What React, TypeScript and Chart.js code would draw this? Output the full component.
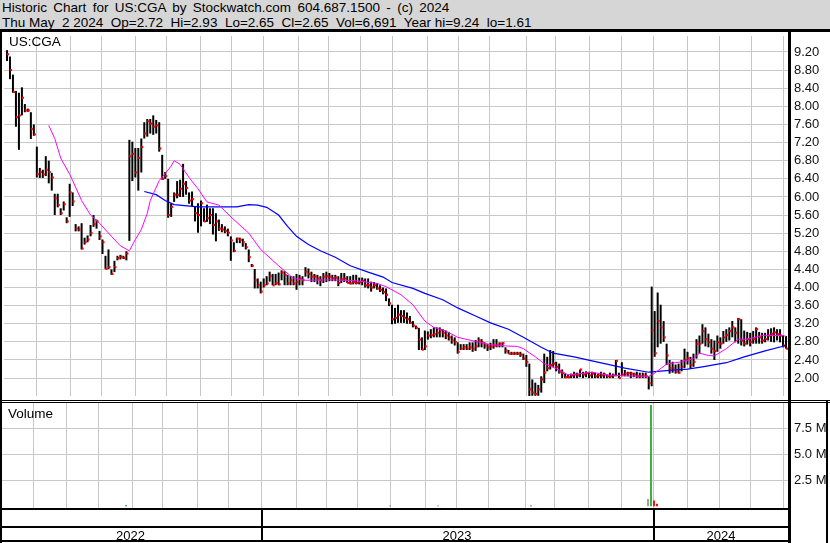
import React, { useEffect, useRef } from "react";
import { Chart, registerables } from "chart.js";

Chart.register(...registerables);

// ---- Daily bars (one slot ≈ 2 trading days), May 2022 → May 2 2024 ----
const barHigh = [
  9.24, 9.10, 8.70, 8.34, 8.30, 8.42, 8.05, 7.95, 7.87, 7.60,
  7.11, 6.64, 6.60, 6.90, 6.80, 6.53, 6.07, 6.07, 5.75, 5.90,
  5.55, 6.29, 6.10, 5.40, 5.35, 5.42, 5.10, 5.15, 5.38, 5.60,
  5.50, 5.25, 5.06, 4.70, 4.84, 4.40, 4.59, 4.70, 4.72, 4.70,
  4.80, 7.26, 7.22, 7.08, 7.08, 7.29, 7.65, 7.72, 7.72, 7.80,
  7.70, 7.65, 6.93, 6.55, 6.40, 5.86, 6.10, 6.35, 6.38, 6.73,
  6.35, 6.10, 6.12, 5.78, 5.86, 5.92, 5.75, 5.83, 5.75, 5.75,
  5.64, 5.50, 5.40, 5.35, 5.30, 5.13, 5.00, 5.10, 5.10, 5.08,
  4.98, 4.84, 4.52, 4.41, 4.20, 4.13, 4.20, 4.25, 4.35, 4.30,
  4.30, 4.33, 4.38, 4.36, 4.28, 4.25, 4.25, 4.30, 4.28, 4.25,
  4.45, 4.42, 4.35, 4.30, 4.28, 4.25, 4.32, 4.35, 4.32, 4.28,
  4.28, 4.25, 4.32, 4.32, 4.25, 4.25, 4.28, 4.28, 4.22, 4.22,
  4.20, 4.20, 4.13, 4.12, 4.10, 4.05, 4.00, 3.98, 3.76, 3.62,
  3.55, 3.62, 3.50, 3.50, 3.45, 3.37, 3.26, 3.16, 3.11, 2.90,
  3.05, 3.03, 3.08, 3.12, 3.12, 3.12, 3.08, 3.05, 3.02, 2.94,
  2.90, 2.79, 2.75, 2.75, 2.75, 2.79, 2.79, 2.84, 2.90, 2.86,
  2.79, 2.75, 2.78, 2.86, 2.86, 2.79, 2.79, 2.68, 2.62, 2.58,
  2.58, 2.58, 2.58, 2.54, 2.51, 2.32, 1.97, 1.90, 1.85, 2.04,
  2.54, 2.47, 2.62, 2.60, 2.36, 2.32, 2.19, 2.10, 2.08, 2.10,
  2.14, 2.12, 2.19, 2.14, 2.15, 2.14, 2.14, 2.12, 2.10, 2.14,
  2.12, 2.08, 2.12, 2.10, 2.40, 2.12, 2.35, 2.18, 2.14, 2.14,
  2.12, 2.14, 2.12, 2.12, 2.12, 2.04, 4.02, 3.48, 3.89, 3.62,
  3.26, 2.76, 2.40, 2.36, 2.30, 2.32, 2.40, 2.65, 2.58, 2.47,
  2.54, 2.86, 2.94, 3.19, 3.12, 2.98, 2.86, 2.83, 2.94, 2.90,
  3.04, 3.08, 3.12, 3.26, 3.12, 3.33, 3.30, 3.05, 3.02, 3.00,
  3.04, 3.12, 3.02, 3.00, 3.00, 3.08, 3.10, 3.12, 3.08, 3.08,
  2.94, 2.93,
];
const barLow = [
  9.00, 8.60, 8.30, 7.55, 7.04, 7.80, 7.87, 7.88, 7.28, 7.35,
  6.43, 6.42, 6.42, 6.46, 6.30, 6.14, 5.60, 5.77, 5.60, 5.70,
  5.42, 5.56, 5.80, 5.24, 5.24, 4.84, 4.95, 5.00, 5.13, 5.34,
  5.30, 5.05, 4.74, 4.41, 4.41, 4.28, 4.34, 4.60, 4.62, 4.63,
  4.60, 5.03, 6.35, 6.43, 6.14, 6.54, 7.29, 7.33, 7.40, 7.37,
  7.40, 7.00, 6.38, 6.40, 5.54, 5.56, 5.89, 5.97, 6.00, 6.00,
  6.05, 5.85, 5.80, 5.46, 5.21, 5.35, 5.45, 5.45, 5.40, 5.17,
  5.02, 5.25, 5.22, 5.20, 5.13, 4.59, 4.78, 4.98, 4.98, 4.90,
  4.84, 4.56, 4.45, 3.98, 3.98, 3.87, 4.00, 4.05, 4.13, 4.05,
  4.05, 4.05, 4.16, 4.05, 4.05, 4.05, 4.05, 3.95, 4.05, 4.05,
  4.24, 4.20, 4.12, 4.12, 4.07, 4.03, 4.10, 4.12, 4.14, 4.14,
  4.14, 4.03, 4.10, 4.12, 4.10, 4.07, 4.07, 4.07, 4.07, 4.05,
  4.00, 3.98, 3.91, 3.98, 3.95, 3.90, 3.85, 3.70, 3.59, 3.19,
  3.20, 3.22, 3.22, 3.22, 3.20, 3.20, 3.12, 3.08, 2.62, 2.62,
  2.62, 2.85, 2.88, 2.90, 2.90, 2.90, 2.90, 2.86, 2.83, 2.76,
  2.72, 2.54, 2.62, 2.62, 2.62, 2.62, 2.58, 2.60, 2.68, 2.68,
  2.65, 2.60, 2.62, 2.65, 2.68, 2.68, 2.68, 2.54, 2.54, 2.51,
  2.51, 2.51, 2.47, 2.40, 2.25, 1.60, 1.61, 1.61, 1.61, 1.68,
  1.89, 2.15, 2.19, 2.25, 2.15, 2.10, 2.00, 2.00, 2.00, 2.00,
  2.00, 2.00, 2.02, 2.00, 2.02, 2.00, 2.00, 2.00, 2.00, 2.00,
  2.00, 2.00, 2.00, 2.00, 2.04, 2.00, 2.04, 2.04, 2.04, 2.00,
  2.02, 2.00, 2.00, 2.00, 2.00, 1.75, 1.82, 2.47, 2.68, 2.76,
  2.80, 2.29, 2.10, 2.12, 2.10, 2.10, 2.15, 2.22, 2.30, 2.22,
  2.25, 2.43, 2.54, 2.76, 2.70, 2.68, 2.54, 2.40, 2.58, 2.65,
  2.76, 2.80, 2.83, 2.90, 2.79, 2.76, 2.72, 2.70, 2.74, 2.70,
  2.76, 2.76, 2.76, 2.76, 2.79, 2.83, 2.80, 2.79, 2.83, 2.79,
  2.68, 2.65,
];
const barClose = [
  9.15, 8.80, 8.32, 7.76, 7.80, 8.19, 7.91, 7.91, 7.50, 7.38,
  6.50, 6.55, 6.50, 6.60, 6.55, 6.43, 5.97, 5.82, 5.64, 5.84,
  5.46, 6.10, 5.90, 5.30, 5.28, 4.86, 5.00, 5.06, 5.20, 5.40,
  5.46, 5.13, 5.00, 4.41, 4.45, 4.30, 4.45, 4.65, 4.68, 4.65,
  4.75, 6.90, 6.95, 6.54, 6.86, 7.10, 7.40, 7.67, 7.62, 7.55,
  7.58, 7.07, 6.40, 6.46, 5.60, 5.78, 6.05, 6.05, 6.18, 6.29,
  6.20, 5.92, 5.95, 5.64, 5.60, 5.86, 5.46, 5.53, 5.60, 5.38,
  5.46, 5.30, 5.28, 5.25, 5.21, 5.04, 4.81, 5.08, 5.05, 5.00,
  4.89, 4.67, 4.48, 4.16, 4.05, 3.91, 4.05, 4.09, 4.25, 4.05,
  4.10, 4.07, 4.33, 4.28, 4.09, 4.16, 4.09, 4.12, 4.20, 4.16,
  4.35, 4.30, 4.24, 4.24, 4.20, 4.16, 4.24, 4.25, 4.24, 4.20,
  4.22, 4.10, 4.18, 4.20, 4.10, 4.09, 4.12, 4.10, 4.12, 4.15,
  4.05, 4.05, 4.00, 4.05, 3.98, 3.95, 3.90, 3.84, 3.65, 3.30,
  3.33, 3.40, 3.37, 3.33, 3.30, 3.22, 3.16, 3.11, 2.85, 2.63,
  2.70, 2.94, 2.95, 2.97, 3.00, 3.06, 3.00, 2.94, 2.90, 2.83,
  2.80, 2.58, 2.65, 2.68, 2.65, 2.68, 2.65, 2.70, 2.83, 2.79,
  2.72, 2.68, 2.70, 2.72, 2.72, 2.76, 2.77, 2.61, 2.54, 2.54,
  2.54, 2.54, 2.52, 2.43, 2.36, 1.75, 1.68, 1.65, 1.75, 1.97,
  2.12, 2.22, 2.29, 2.32, 2.25, 2.14, 2.11, 2.02, 2.02, 2.06,
  2.08, 2.06, 2.19, 2.08, 2.11, 2.06, 2.10, 2.04, 2.06, 2.06,
  2.08, 2.04, 2.04, 2.06, 2.38, 2.00, 2.08, 2.10, 2.11, 2.10,
  2.08, 2.04, 2.04, 2.06, 2.04, 1.89, 3.05, 2.55, 3.26, 3.12,
  2.90, 2.50, 2.22, 2.22, 2.14, 2.12, 2.25, 2.40, 2.44, 2.29,
  2.36, 2.76, 2.76, 3.04, 2.86, 2.79, 2.65, 2.60, 2.79, 2.76,
  2.90, 2.95, 3.04, 3.12, 3.00, 3.30, 2.83, 2.76, 2.86, 2.80,
  2.86, 3.08, 2.90, 2.83, 2.86, 2.94, 2.98, 3.01, 2.97, 2.94,
  2.72, 2.65,
];

// ---- Moving averages (bar slot, value) ----
const fastMaBar = [
  14, 16, 18, 21, 22, 25, 28, 31, 35, 38, 41, 43, 45, 47, 48, 51, 55, 56, 58, 61,
  64, 67, 71, 75, 81, 85, 91, 96, 100, 108, 117, 124, 127, 132, 136, 140, 143, 147, 151, 157,
  162, 167, 171, 173, 177, 180, 185, 188, 191, 196, 201, 207, 215, 217, 221, 226, 230, 232, 235, 237,
  241, 245, 248, 253, 260, 261,
];
const fastMaVal = [
  7.58, 7.29, 6.86, 6.50, 6.36, 5.92, 5.60, 5.42, 5.13, 4.92, 4.81, 5.06, 5.28, 5.64, 5.92, 6.36, 6.68, 6.80, 6.72, 6.43,
  6.18, 5.89, 5.82, 5.56, 5.20, 4.84, 4.48, 4.20, 4.16, 4.17, 4.15, 4.09, 4.02, 3.84, 3.62, 3.26, 3.12, 3.04, 2.90, 2.81,
  2.74, 2.71, 2.70, 2.65, 2.47, 2.32, 2.18, 2.07, 2.09, 2.13, 2.07, 2.05, 2.04, 2.11, 2.31, 2.36, 2.43, 2.55, 2.50, 2.49,
  2.65, 2.86, 2.86, 2.94, 2.94, 2.92,
];
const slowMaBar = [
  46, 50, 53, 56, 64, 77, 81, 84, 87, 91, 94, 97, 101, 105, 110, 115, 121, 126, 129, 136,
  140, 146, 151, 157, 162, 168, 173, 179, 183, 190, 196, 201, 207, 215, 222, 228, 233, 241, 247, 254, 261,
];
const slowMaVal = [
  6.12, 6.05, 5.92, 5.83, 5.78, 5.78, 5.83, 5.82, 5.77, 5.60, 5.35, 5.13, 4.95, 4.81, 4.67, 4.48, 4.34, 4.23, 4.11, 3.98,
  3.87, 3.73, 3.55, 3.37, 3.22, 3.08, 2.90, 2.68, 2.55, 2.47, 2.38, 2.31, 2.22, 2.13, 2.17, 2.20, 2.25, 2.34, 2.47, 2.60, 2.72,
];

// ---- Volume (millions), sparse ----
const volBar = [41, 129, 145, 176, 215, 216, 217, 218];
const volValue = [0.12, 0.08, 0.08, 0.08, 0.7, 9.74, 0.55, 0.25];
const volKind = ["up", "up", "up", "down", "flat", "up", "down", "down"];

// ---- Axes ----
const priceTicks = [2.0, 2.4, 2.8, 3.2, 3.6, 4.0, 4.4, 4.8, 5.2, 5.6, 6.0, 6.4, 6.8, 7.2, 7.6, 8.0, 8.4, 8.8, 9.2];
const volTicks = [2.5, 5.0, 7.5];
const monthStartBar = [10, 21.3, 31.7, 43, 53.3, 64.7, 75.3, 86, 97.7, 107.7, 118.3, 129.3, 141, 151.3, 161.7, 174, 183.7, 195, 206, 216.7, 228, 238.7, 249.3, 260];
const yearStartBar = [86, 216.7];
const yearLabels = ["2022", "2023", "2024"];

const FONT = "'Liberation Sans', Arial, sans-serif";
const GRID = "#c8c8c8";

function xScale() {
  return {
    type: "linear" as const,
    min: -1,
    max: 262,
    offset: false,
    grid: { color: GRID, lineWidth: 1, drawTicks: false, offset: false },
    border: { display: false },
    ticks: { display: false },
    afterBuildTicks: (s: any) => {
      s.ticks = monthStartBar.map((v) => ({ value: v }));
    },
    afterFit: (s: any) => {
      s.height = 0;
      s.paddingLeft = 0;
      s.paddingRight = 0;
    },
  };
}

function rightAxisFit(s: any) {
  s.width = 41;
  s.paddingTop = 0;
  s.paddingBottom = 0;
}

const dateBandPlugin = {
  id: "dateBand",
  afterDraw(chart: any) {
    const { ctx, chartArea, scales } = chart;
    const x = scales.x;
    const top = chartArea.bottom;
    const right = chartArea.right;
    ctx.save();
    ctx.fillStyle = "#000";
    ctx.fillRect(0, top - 1, right, 2);
    ctx.fillRect(0, top + 17, right, 2);
    ctx.fillRect(0, top + 31, right, 2);
    const edges = [chartArea.left];
    yearStartBar.forEach((b) => {
      const px = Math.round(x.getPixelForValue(b));
      edges.push(px);
      ctx.fillRect(px, top, 2, 33);
    });
    edges.push(right);
    ctx.font = `13px ${FONT}`;
    ctx.textAlign = "center";
    ctx.textBaseline = "alphabetic";
    yearLabels.forEach((lab, i) => {
      ctx.fillText(lab, (edges[i] + edges[i + 1]) / 2, top + 31);
    });
    ctx.restore();
  },
};

export default function App() {
  const priceRef = useRef<HTMLCanvasElement>(null);
  const volRef = useRef<HTMLCanvasElement>(null);

  useEffect(() => {
    Chart.defaults.font.family = FONT;
    const priceChart = new Chart(priceRef.current as HTMLCanvasElement, {
      type: "bar",
      data: {
        datasets: [
          {
            type: "line",
            data: fastMaBar.map((b, i) => ({ x: b, y: fastMaVal[i] })),
            borderColor: "#ff00ff",
            borderWidth: 1,
            pointRadius: 0,
            tension: 0,
          } as any,
          {
            type: "line",
            data: slowMaBar.map((b, i) => ({ x: b, y: slowMaVal[i] })),
            borderColor: "#0000ff",
            borderWidth: 1.2,
            pointRadius: 0,
            tension: 0,
          } as any,
          {
            type: "line",
            data: barClose.map((c, i) => ({ x: i + 0.33, y: c })),
            showLine: false,
            pointStyle: "rect",
            pointRadius: 1.5,
            pointBackgroundColor: "#ff0000",
            pointBorderWidth: 0,
            borderWidth: 0,
          } as any,
          {
            type: "bar",
            data: barHigh.map((h, i) => ({ x: i, y: [barLow[i], h] })),
            backgroundColor: "#000",
            barThickness: 2,
            borderWidth: 0,
            borderSkipped: false,
            inflateAmount: 0,
          } as any,
        ],
      },
      options: {
        animation: false,
        responsive: false,
        maintainAspectRatio: false,
        layout: { padding: 0 },
        plugins: { legend: { display: false }, tooltip: { enabled: false } },
        scales: {
          x: xScale() as any,
          y: {
            position: "right",
            min: 1.605,
            max: 9.553,
            grid: { color: GRID, lineWidth: 1, drawTicks: false },
            border: { display: false },
            ticks: {
              color: "#111",
              font: { family: FONT, size: 13 },
              padding: 5,
              callback: (v: any) => Number(v).toFixed(2),
            },
            afterBuildTicks: (s: any) => {
              s.ticks = priceTicks.map((v) => ({ value: v }));
            },
            afterFit: rightAxisFit,
          } as any,
        },
      },
    });

    const volColors: Record<string, string> = { up: "#3cb43c", down: "#ee1111", flat: "#a0a0a0" };
    const volChart = new Chart(volRef.current as HTMLCanvasElement, {
      type: "bar",
      data: {
        datasets: [
          {
            data: volBar.map((b, i) => ({ x: b, y: volValue[i] })),
            backgroundColor: volKind.map((k) => volColors[k]),
            barThickness: 2,
            borderWidth: 0,
            inflateAmount: 0,
          } as any,
        ],
      },
      options: {
        animation: false,
        responsive: false,
        maintainAspectRatio: false,
        layout: { padding: { left: 0, right: 0, top: 0, bottom: 34 } },
        plugins: { legend: { display: false }, tooltip: { enabled: false } },
        scales: {
          x: xScale() as any,
          y: {
            position: "right",
            min: -0.26,
            max: 9.93,
            grid: { color: GRID, lineWidth: 1, drawTicks: false },
            border: { display: false },
            ticks: {
              color: "#111",
              font: { family: FONT, size: 13 },
              padding: 5,
              callback: (v: any) => Number(v).toFixed(1) + " M",
            },
            afterBuildTicks: (s: any) => {
              s.ticks = volTicks.map((v) => ({ value: v }));
            },
            afterFit: rightAxisFit,
          } as any,
        },
      },
      plugins: [dateBandPlugin],
    });

    return () => {
      priceChart.destroy();
      volChart.destroy();
    };
  }, []);

  const abs = (s: React.CSSProperties): React.CSSProperties => ({ position: "absolute", ...s });

  return (
    <div style={abs({ left: 0, top: 0, width: 830, height: 543, background: "#fff", overflow: "hidden", fontFamily: FONT })}>
      <div style={abs({ left: 0, top: 0, width: 830, height: 29, background: "#d6d6d6" })} />
      <div style={abs({ left: 2, top: 1, fontSize: 13.5, lineHeight: "14.5px", color: "#000", whiteSpace: "pre", wordSpacing: 2.6 })}>
        {"Historic Chart for US:CGA by Stockwatch.com 604.687.1500 - (c) 2024"}
      </div>
      <div style={abs({ left: 2, top: 15.5, fontSize: 13.5, lineHeight: "14.5px", color: "#000", whiteSpace: "pre" })}>
        {"Thu May  2 2024  Op=2.72  Hi=2.93  Lo=2.65  Cl=2.65  Vol=6,691  Year hi=9.24  lo=1.61"}
      </div>
      <div style={abs({ left: 0, top: 29, width: 830, height: 3, background: "#000" })} />

      <canvas ref={priceRef} width={830} height={368} style={abs({ left: 0, top: 32, width: 830, height: 368 })} />
      <canvas ref={volRef} width={830} height={140} style={abs({ left: 0, top: 403, width: 830, height: 140 })} />

      <div style={abs({ left: 9, top: 34, fontSize: 13.5, lineHeight: "15px", color: "#000" })}>US:CGA</div>
      <div style={abs({ left: 8, top: 406, fontSize: 13.5, lineHeight: "15px", color: "#000" })}>Volume</div>

      <div style={abs({ left: 0, top: 400, width: 830, height: 1, background: "#000" })} />
      <div style={abs({ left: 0, top: 402, width: 830, height: 1, background: "#000" })} />
      <div style={abs({ left: 0, top: 29, width: 2, height: 514, background: "#000" })} />
      <div style={abs({ left: 788, top: 32, width: 3, height: 511, background: "#000" })} />
      <div style={abs({ left: 826, top: 401, width: 2, height: 142, background: "#000" })} />
    </div>
  );
}
